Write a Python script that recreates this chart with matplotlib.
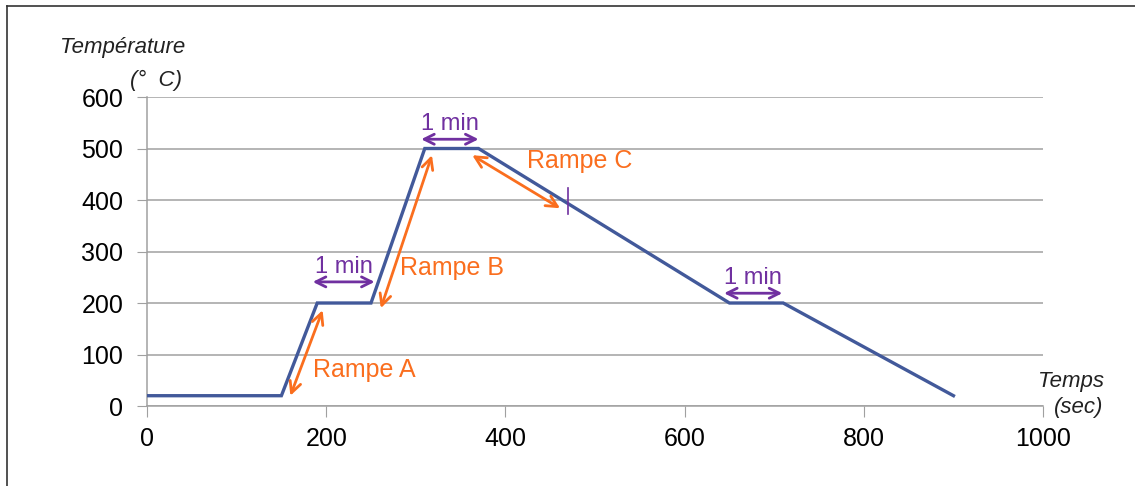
import matplotlib.pyplot as plt
import matplotlib.lines as mlines

plt.rcParams['font.family'] = ['Liberation Sans', 'DejaVu Sans']

# profil de température
temps = [0, 150, 190, 250, 310, 370, 650, 710, 900]
temperature = [20, 20, 200, 200, 500, 500, 200, 200, 20]

x_ticks = [0, 200, 400, 600, 800, 1000]
y_ticks = [0, 100, 200, 300, 400, 500, 600]

# rampes (début, fin) et étiquettes
rampes = [
    ("Rampe A", (160, 20), (196, 186), (185, 70)),
    ("Rampe B", (261, 190), (318, 487), (282, 268)),
    ("Rampe C", (363, 487), (461, 384), (424, 476)),
]
# paliers de 1 min
paliers = [(185, 254, 241), (306, 370, 518), (644, 709, 219)]

ORANGE = '#FA6E1E'
VIOLET = '#7030A0'
BLEU = '#42599A'

fig = plt.figure(figsize=(11.35, 4.86), dpi=100)
ax = fig.add_axes([0.1295, 0.1646, 0.7895, 0.6358])

ax.plot(temps, temperature, color=BLEU, lw=2.4, solid_joinstyle='miter', zorder=3)

ax.set_xlim(0, 1000)
ax.set_ylim(0, 600)
ax.set_xticks(x_ticks)
ax.set_yticks(y_ticks)
ax.tick_params(axis='both', labelsize=18, color='#A0A0A0', direction='out')
ax.tick_params(axis='x', length=8, pad=7)
ax.tick_params(axis='y', length=7, pad=10)
ax.grid(axis='y', color='#A0A0A0', lw=1.1)
ax.set_axisbelow(True)
for side in ['top', 'right']:
    ax.spines[side].set_visible(False)
for side in ['left', 'bottom']:
    ax.spines[side].set_color('#A0A0A0')
    ax.spines[side].set_linewidth(1.1)

for label, debut, fin, pos in rampes:
    ax.annotate('', xy=fin, xytext=debut,
                arrowprops=dict(arrowstyle='<->', color=ORANGE, lw=2,
                                mutation_scale=20, shrinkA=0, shrinkB=0))
    ax.text(pos[0], pos[1], label, color=ORANGE, fontsize=18, va='center', ha='left')

for x0, x1, y in paliers:
    ax.annotate('', xy=(x1, y), xytext=(x0, y),
                arrowprops=dict(arrowstyle='<->', color=VIOLET, lw=2,
                                mutation_scale=18, shrinkA=0, shrinkB=0))
    ax.text((x0 + x1) / 2, y + 8, '1 min', color=VIOLET, fontsize=17, ha='center', va='bottom')

# petit repère sur la rampe C
ax.plot([470, 470], [372, 424], color=VIOLET, lw=1.2, zorder=4)

fig.text(60 / 1135, 1 - 48 / 486, 'Température', fontsize=16, style='italic', color='#222222', va='center')
fig.text(130 / 1135, 1 - 80 / 486, '(°  C)', fontsize=16, style='italic', color='#222222', va='center')
fig.text(1038 / 1135, 1 - 381 / 486, 'Temps', fontsize=16, style='italic', color='#222222', va='center')
fig.text(1054 / 1135, 1 - 407 / 486, '(sec)', fontsize=16, style='italic', color='#222222', va='center')

# cadre
fig.add_artist(mlines.Line2D([7 / 1135, 7 / 1135], [0, 1 - 6 / 486], color='#333333', lw=1.2))
fig.add_artist(mlines.Line2D([7 / 1135, 1], [1 - 6 / 486, 1 - 6 / 486], color='#333333', lw=1.2))

fig.savefig('out.png', dpi=100)
